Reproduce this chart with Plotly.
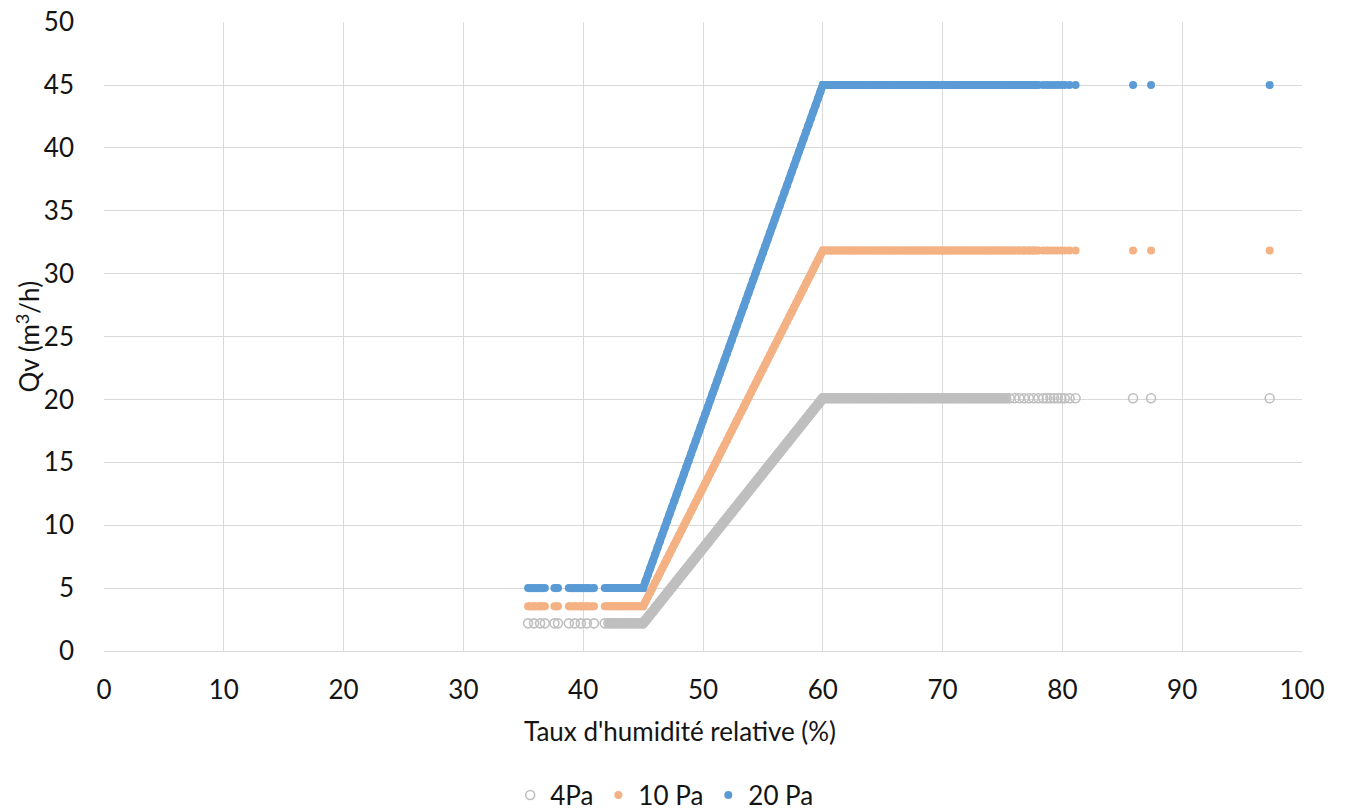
import plotly.graph_objects as go

# Relative humidity readings (%)
rh_low = [35.4, 35.9, 36.4, 36.8, 37.6, 37.9, 38.8, 39.3, 39.8, 40.3,
          40.9, 41.8, 42.1, 42.4, 42.7, 43.0, 43.3, 43.6, 43.9, 44.2,
          44.5, 44.8, 45.0]
rh_ramp = [45.2, 45.4, 45.6, 45.8, 46.0, 46.2, 46.4, 46.6, 46.8, 47.0,
           47.2, 47.4, 47.6, 47.8, 48.0, 48.2, 48.4, 48.6, 48.8, 49.0,
           49.2, 49.4, 49.6, 49.8, 50.0, 50.2, 50.4, 50.6, 50.8, 51.0,
           51.2, 51.4, 51.6, 51.8, 52.0, 52.2, 52.4, 52.6, 52.8, 53.0,
           53.2, 53.4, 53.6, 53.8, 54.0, 54.2, 54.4, 54.6, 54.8, 55.0,
           55.2, 55.4, 55.6, 55.8, 56.0, 56.2, 56.4, 56.6, 56.8, 57.0,
           57.2, 57.4, 57.6, 57.8, 58.0, 58.2, 58.4, 58.6, 58.8, 59.0,
           59.2, 59.4, 59.6, 59.8, 60.0]
rh_high = [60.3, 60.6, 60.9, 61.2, 61.5, 61.8, 62.1, 62.4, 62.7, 63.0,
           63.3, 63.6, 63.9, 64.2, 64.5, 64.8, 65.1, 65.4, 65.7, 66.0,
           66.3, 66.6, 66.9, 67.2, 67.5, 67.8, 68.1, 68.4, 68.7, 69.0,
           69.3, 69.6, 69.9, 70.2, 70.5, 70.8, 71.1, 71.4, 71.7, 72.0,
           72.3, 72.6, 72.9, 73.2, 73.5, 73.8, 74.1, 74.4, 74.7, 75.0,
           75.3, 75.6, 76.0, 76.4, 76.8, 77.2, 77.6, 78.0, 78.4, 78.7,
           79.0, 79.3, 79.6, 79.9, 80.2, 80.6, 81.1, 85.9, 87.4, 97.3]

# Qv (m3/h) at 4 Pa
qv_4pa_low = [2.2, 2.2, 2.2, 2.2, 2.2, 2.2, 2.2, 2.2, 2.2, 2.2,
              2.2, 2.2, 2.2, 2.2, 2.2, 2.2, 2.2, 2.2, 2.2, 2.2,
              2.2, 2.2, 2.2]
qv_4pa_ramp = [2.44, 2.68, 2.92, 3.15, 3.39, 3.63, 3.87, 4.11, 4.35, 4.59,
               4.83, 5.06, 5.30, 5.54, 5.78, 6.02, 6.26, 6.50, 6.73, 6.97,
               7.21, 7.45, 7.69, 7.93, 8.17, 8.41, 8.64, 8.88, 9.12, 9.36,
               9.60, 9.84, 10.08, 10.31, 10.55, 10.79, 11.03, 11.27, 11.51, 11.75,
               11.99, 12.22, 12.46, 12.70, 12.94, 13.18, 13.42, 13.66, 13.89, 14.13,
               14.37, 14.61, 14.85, 15.09, 15.33, 15.57, 15.80, 16.04, 16.28, 16.52,
               16.76, 17.00, 17.24, 17.47, 17.71, 17.95, 18.19, 18.43, 18.67, 18.91,
               19.15, 19.38, 19.62, 19.86, 20.10]
qv_4pa_high = [20.1, 20.1, 20.1, 20.1, 20.1, 20.1, 20.1, 20.1, 20.1, 20.1,
               20.1, 20.1, 20.1, 20.1, 20.1, 20.1, 20.1, 20.1, 20.1, 20.1,
               20.1, 20.1, 20.1, 20.1, 20.1, 20.1, 20.1, 20.1, 20.1, 20.1,
               20.1, 20.1, 20.1, 20.1, 20.1, 20.1, 20.1, 20.1, 20.1, 20.1,
               20.1, 20.1, 20.1, 20.1, 20.1, 20.1, 20.1, 20.1, 20.1, 20.1,
               20.1, 20.1, 20.1, 20.1, 20.1, 20.1, 20.1, 20.1, 20.1, 20.1,
               20.1, 20.1, 20.1, 20.1, 20.1, 20.1, 20.1, 20.1, 20.1, 20.1]

# Qv (m3/h) at 10 Pa
qv_10pa_low = [3.55, 3.55, 3.55, 3.55, 3.55, 3.55, 3.55, 3.55, 3.55, 3.55,
               3.55, 3.55, 3.55, 3.55, 3.55, 3.55, 3.55, 3.55, 3.55, 3.55,
               3.55, 3.55, 3.55]
qv_10pa_ramp = [3.93, 4.30, 4.68, 5.06, 5.44, 5.81, 6.19, 6.57, 6.95, 7.32,
                7.70, 8.08, 8.46, 8.83, 9.21, 9.59, 9.96, 10.34, 10.72, 11.10,
                11.47, 11.85, 12.23, 12.61, 12.98, 13.36, 13.74, 14.12, 14.49, 14.87,
                15.25, 15.62, 16.00, 16.38, 16.76, 17.13, 17.51, 17.89, 18.27, 18.64,
                19.02, 19.40, 19.78, 20.15, 20.53, 20.91, 21.28, 21.66, 22.04, 22.42,
                22.79, 23.17, 23.55, 23.93, 24.30, 24.68, 25.06, 25.43, 25.81, 26.19,
                26.57, 26.94, 27.32, 27.70, 28.08, 28.45, 28.83, 29.21, 29.59, 29.96,
                30.34, 30.72, 31.09, 31.47, 31.85]
qv_10pa_high = [31.85, 31.85, 31.85, 31.85, 31.85, 31.85, 31.85, 31.85, 31.85, 31.85,
                31.85, 31.85, 31.85, 31.85, 31.85, 31.85, 31.85, 31.85, 31.85, 31.85,
                31.85, 31.85, 31.85, 31.85, 31.85, 31.85, 31.85, 31.85, 31.85, 31.85,
                31.85, 31.85, 31.85, 31.85, 31.85, 31.85, 31.85, 31.85, 31.85, 31.85,
                31.85, 31.85, 31.85, 31.85, 31.85, 31.85, 31.85, 31.85, 31.85, 31.85,
                31.85, 31.85, 31.85, 31.85, 31.85, 31.85, 31.85, 31.85, 31.85, 31.85,
                31.85, 31.85, 31.85, 31.85, 31.85, 31.85, 31.85, 31.85, 31.85, 31.85]

# Qv (m3/h) at 20 Pa
qv_20pa_low = [5.0, 5.0, 5.0, 5.0, 5.0, 5.0, 5.0, 5.0, 5.0, 5.0,
               5.0, 5.0, 5.0, 5.0, 5.0, 5.0, 5.0, 5.0, 5.0, 5.0,
               5.0, 5.0, 5.0]
qv_20pa_ramp = [5.53, 6.07, 6.60, 7.13, 7.67, 8.20, 8.73, 9.27, 9.80, 10.33,
                10.87, 11.40, 11.93, 12.47, 13.00, 13.53, 14.07, 14.60, 15.13, 15.67,
                16.20, 16.73, 17.27, 17.80, 18.33, 18.87, 19.40, 19.93, 20.47, 21.00,
                21.53, 22.07, 22.60, 23.13, 23.67, 24.20, 24.73, 25.27, 25.80, 26.33,
                26.87, 27.40, 27.93, 28.47, 29.00, 29.53, 30.07, 30.60, 31.13, 31.67,
                32.20, 32.73, 33.27, 33.80, 34.33, 34.87, 35.40, 35.93, 36.47, 37.00,
                37.53, 38.07, 38.60, 39.13, 39.67, 40.20, 40.73, 41.27, 41.80, 42.33,
                42.87, 43.40, 43.93, 44.47, 45.00]
qv_20pa_high = [45.0, 45.0, 45.0, 45.0, 45.0, 45.0, 45.0, 45.0, 45.0, 45.0,
                45.0, 45.0, 45.0, 45.0, 45.0, 45.0, 45.0, 45.0, 45.0, 45.0,
                45.0, 45.0, 45.0, 45.0, 45.0, 45.0, 45.0, 45.0, 45.0, 45.0,
                45.0, 45.0, 45.0, 45.0, 45.0, 45.0, 45.0, 45.0, 45.0, 45.0,
                45.0, 45.0, 45.0, 45.0, 45.0, 45.0, 45.0, 45.0, 45.0, 45.0,
                45.0, 45.0, 45.0, 45.0, 45.0, 45.0, 45.0, 45.0, 45.0, 45.0,
                45.0, 45.0, 45.0, 45.0, 45.0, 45.0, 45.0, 45.0, 45.0, 45.0]

series_names = ["4Pa", "10 Pa", "20 Pa"]
x_ticks = [0, 10, 20, 30, 40, 50, 60, 70, 80, 90, 100]
y_ticks = [0, 5, 10, 15, 20, 25, 30, 35, 40, 45, 50]

# contiguous runs of closely spaced readings (index ranges in the combined arrays)
runs_filled = [(0, 4), (4, 6), (6, 11), (11, 156)]
runs_open = [(11, 150)]

rh_all = rh_low + rh_ramp + rh_high
qv_4pa = qv_4pa_low + qv_4pa_ramp + qv_4pa_high
qv_10pa = qv_10pa_low + qv_10pa_ramp + qv_10pa_high
qv_20pa = qv_20pa_low + qv_20pa_ramp + qv_20pa_high


def run_path(x, y, runs):
    xs, ys = [], []
    for a, b in runs:
        xs += x[a:b] + [None]
        ys += y[a:b] + [None]
    return xs, ys


FONT = "Lato"
TXT = "#141414"
GRID = "#D9D9D9"
C4, C10, C20 = "#BFBFBF", "#F4B183", "#5B9BD5"

fig = go.Figure()

# 4 Pa
bx, by = run_path(rh_all, qv_4pa, runs_open)
fig.add_trace(go.Scatter(x=bx, y=by, mode="lines", showlegend=False, hoverinfo="skip",
                         line=dict(color=C4, width=10)))
fig.add_trace(go.Scatter(
    x=rh_all, y=qv_4pa, mode="markers", name=series_names[0],
    marker=dict(symbol="circle-open", size=9, color=C4, line=dict(width=1.6, color=C4)),
))
# 10 Pa
bx, by = run_path(rh_all, qv_10pa, runs_filled)
fig.add_trace(go.Scatter(x=bx, y=by, mode="lines", showlegend=False, hoverinfo="skip",
                         line=dict(color=C10, width=8)))
fig.add_trace(go.Scatter(
    x=rh_all, y=qv_10pa, mode="markers", name=series_names[1],
    marker=dict(symbol="circle", size=8, color=C10),
))
# 20 Pa
bx, by = run_path(rh_all, qv_20pa, runs_filled)
fig.add_trace(go.Scatter(x=bx, y=by, mode="lines", showlegend=False, hoverinfo="skip",
                         line=dict(color=C20, width=8)))
fig.add_trace(go.Scatter(
    x=rh_all, y=qv_20pa, mode="markers", name=series_names[2],
    marker=dict(symbol="circle", size=8, color=C20),
))

fig.update_layout(
    width=1346, height=810,
    margin=dict(l=104, r=44, t=22, b=159, autoexpand=False),
    paper_bgcolor="white", plot_bgcolor="white",
    font=dict(family=FONT, size=25, color=TXT),
    showlegend=True,
    legend=dict(orientation="h", x=0.468, xanchor="center", y=-0.229,
                yanchor="middle", font=dict(size=26, color=TXT),
                bgcolor="rgba(0,0,0,0)"),
    annotations=[
        dict(text="Taux d'humidité relative (%)", xref="paper", yref="paper",
             x=0.481, y=-0.127, xanchor="center", yanchor="middle",
             showarrow=False, font=dict(size=26, color=TXT)),
        dict(text="Qv (m<sup>3</sup>/h)", xref="paper", yref="paper",
             x=-0.0634, y=0.5, xanchor="center", yanchor="middle", textangle=-90,
             showarrow=False, font=dict(size=26, color=TXT)),
    ],
)
fig.update_xaxes(
    range=[0, 100], tickvals=x_ticks, ticktext=[str(v) for v in x_ticks],
    showgrid=True, gridcolor=GRID, gridwidth=1.3, automargin=False,
    zeroline=False, showline=True, linecolor=GRID, linewidth=1.3,
    ticks="", ticklabelstandoff=16, ticklabeloverflow="allow",
    tickfont=dict(size=26, color=TXT),
)
fig.update_yaxes(
    range=[0, 50.01], tickvals=y_ticks, ticktext=[str(v) for v in y_ticks],
    showgrid=True, gridcolor=GRID, gridwidth=1.3, automargin=False,
    zeroline=False, showline=False,
    ticks="", ticklabelstandoff=29, ticklabeloverflow="allow",
    tickfont=dict(size=26, color=TXT),
)

fig.write_html("out.html",
               config={"displayModeBar": False},
               post_script="document.body.style.margin='0';document.body.style.overflow='hidden';")
